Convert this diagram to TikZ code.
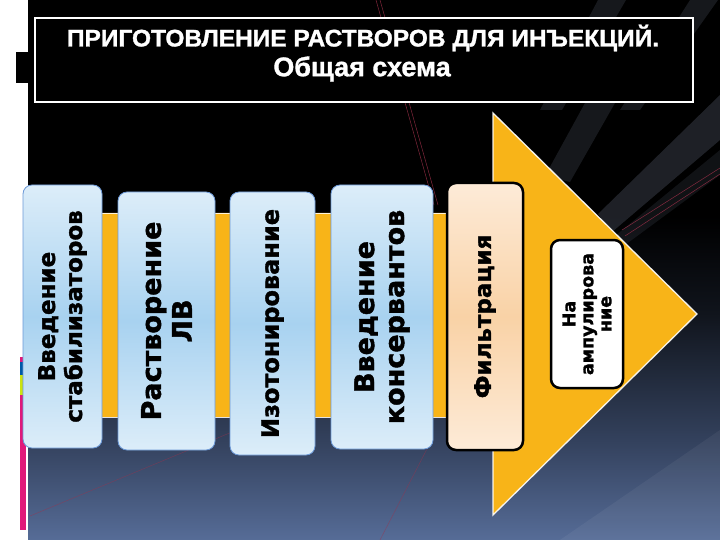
\documentclass[tikz,border=0pt]{standalone}
\usepackage{fontspec}
\setmainfont{DejaVu Sans}
\newfontfamily\titlefont[BoldFeatures={FakeBold=1.2}]{Liberation Sans}
\newfontfamily\boxfont[BoldFeatures={FakeBold=1.5}]{DejaVu Sans}
\definecolor{arrowc}{HTML}{F8B418}
\definecolor{blueA}{HTML}{DCEDF9}
\definecolor{blueB}{HTML}{A8D2F0}
\definecolor{peachA}{HTML}{FDEBD8}
\definecolor{peachB}{HTML}{F9D2A6}
\definecolor{bgA}{HTML}{566C97}
\definecolor{bgB}{HTML}{34425E}
\definecolor{bgC}{HTML}{10141C}
\definecolor{streak}{HTML}{8A96B0}
\definecolor{pinkc}{HTML}{E0197A}
\definecolor{redline}{HTML}{A0304A}
\pgfdeclareverticalshading{blueshade}{100bp}{color(0bp)=(blueA); color(25bp)=(blueA); color(50bp)=(blueB); color(75bp)=(blueA); color(100bp)=(blueA)}
\pgfdeclareverticalshading{peachshade}{100bp}{color(0bp)=(peachA); color(25bp)=(peachA); color(50bp)=(peachB); color(75bp)=(peachA); color(100bp)=(peachA)}
\pgfdeclareverticalshading{bgshade}{100bp}{color(0bp)=(bgA); color(25bp)=(bgA); color(34bp)=(bgB); color(46bp)=(bgC); color(55bp)=(black); color(100bp)=(black)}
\begin{document}
\begin{tikzpicture}[x=1pt,y=-1pt,
  stepbox/.style={draw=cyan!50!blue!60, line width=0.8pt, rounded corners=9pt, shading=blueshade},
  filtbox/.style={draw=black, line width=2.5pt, rounded corners=9pt, shading=peachshade},
  ampbox/.style={draw=black, line width=2.5pt, rounded corners=9pt, fill=white},
  steptext/.style={rotate=90, align=center, text=black},
  streakfill/.style={fill=streak, opacity=0.16},
  thinred/.style={draw=redline, line width=0.5pt, opacity=0.8}]
\useasboundingbox (0,0) rectangle (720,540);
% page
\fill[white] (0,0) rectangle (720,540);
% background
\shade[shading=bgshade] (28,0) rectangle (720,540);
% streaks
\fill[streakfill] (598,0) -- (626,0) -- (562,110) -- (540,110) -- cycle;
\fill[streakfill] (585,103) -- (615,103) -- (570,182) -- (545,176) -- cycle;
\fill[streakfill] (690,0) -- (718,0) -- (640,110) -- (620,110) -- cycle;
\fill[streakfill, opacity=0.22] (720,95) -- (720,140) -- (612,232) -- (598,214) -- cycle;
\fill[streakfill, opacity=0.12] (720,150) -- (720,175) -- (625,245) -- (615,236) -- cycle;
\fill[streakfill, opacity=0.08] (28,215) -- (28,235) -- (80,250) -- cycle;
\fill[white, opacity=0.05] (560,540) -- (720,430) -- (720,540) -- cycle;
\draw[thinred] (376,0) -- (434,205);
\draw[thinred] (380,0) -- (438,205);
\draw[thinred] (720,168) -- (622,230);
\draw[thinred] (720,174) -- (625,236);
\draw[thinred, opacity=0.5] (30,516) -- (232,432);
\draw[thinred, opacity=0.5] (380,540) -- (428,447);
% left decoration
\fill[black] (16,52) rectangle (28,83);
\fill[pinkc] (20,357) rectangle (26,530);
\fill[teal!70!blue] (20,362) rectangle (26,375);
\fill[yellow!80!green] (20,375) rectangle (26,395);
% title
\node[draw=white, line width=1.6pt, fill=black, minimum width=658pt, minimum height=84pt, anchor=north west] (title) at (34,17) {};
\node[text=white, font=\titlefont\bfseries\fontsize{24}{24}\selectfont, xscale=1.02] (ttl1) at (363,38) {ПРИГОТОВЛЕНИЕ РАСТВОРОВ ДЛЯ ИНЪЕКЦИЙ.};
\node[text=white, font=\titlefont\bfseries\fontsize{27}{27}\selectfont] (ttl2) at (362,69) {Общая схема};
% arrow
\fill[arrowc] (28,213) -- (493,213) -- (493,113) -- (697,314) -- (493,515) -- (493,417) -- (28,417) -- cycle;
\draw[white, opacity=0.85, line width=0.9pt] (28,213) -- (493,213) (28,417) -- (493,417);
\draw[white, opacity=0.9, line width=1.3pt] (493,213) -- (493,113) -- (697,314) -- (493,515) -- (493,417);
% boxes
\node[stepbox, minimum width=79pt, minimum height=263pt] (b1) at (62.5,316.5) {};
\node[steptext, font=\boxfont\bfseries\fontsize{23}{27}\selectfont] (t1) at (b1.center) {Введение\\стабилизаторов};
\node[stepbox, minimum width=97pt, minimum height=258pt] (b2) at (166.5,321) {};
\node[steptext, font=\boxfont\bfseries\fontsize{27}{31}\selectfont] (t2) at (b2.center) {Растворение\\ЛВ};
\node[stepbox, minimum width=85pt, minimum height=263pt] (b3) at (272.5,323.5) {};
\node[steptext, font=\boxfont\bfseries\fontsize{24}{28}\selectfont] (t3) at (b3.center) {Изотонирование};
\node[stepbox, minimum width=102pt, minimum height=264pt] (b4) at (382,317) {};
\node[steptext, font=\boxfont\bfseries\fontsize{27}{30}\selectfont] (t4) at (b4.center) {Введение\\консервантов};
\node[filtbox, minimum width=76pt, minimum height=267pt] (b5) at (485,316.5) {};
\node[steptext, font=\boxfont\bfseries\fontsize{23}{27}\selectfont] (t5) at (b5.center) {Фильтрация};
\node[ampbox, minimum width=72pt, minimum height=148pt] (b6) at (587,314) {};
\node[steptext, font=\boxfont\bfseries\fontsize{17.5}{18}\selectfont] (t6) at (b6.center) {На\\ампулирова\\ние};
\end{tikzpicture}
\end{document}
